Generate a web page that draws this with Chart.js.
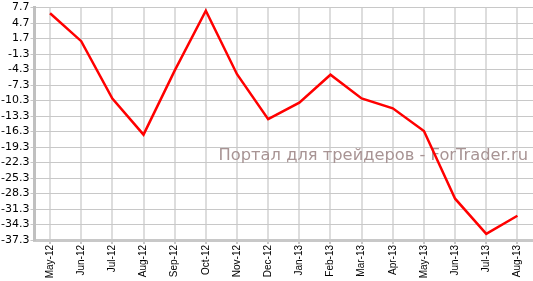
<!DOCTYPE html>
<html>
<head>
<meta charset="utf-8">
<script src="https://cdn.jsdelivr.net/npm/chart.js@4"></script>
<style>
  html, body { margin: 0; padding: 0; background: #fff; }
  #wrap { width: 533px; height: 281px; }
</style>
</head>
<body>
<div id="wrap"><canvas id="chart1"></canvas></div>
<script>
const months = [
  "May-12", "Jun-12", "Jul-12", "Aug-12", "Sep-12", "Oct-12", "Nov-12", "Dec-12",
  "Jan-13", "Feb-13", "Mar-13", "Apr-13", "May-13", "Jun-13", "Jul-13", "Aug-13",
];

const values = [
  6.6, 1.2, -9.9, -16.9, -4.5, 7.1, -5.2, -13.9,
  -10.7, -5.3, -9.9, -11.8, -16.2, -29.3, -36.1, -32.6,
];

const yTicks = [
  7.7, 4.7, 1.7, -1.3, -4.3, -7.3, -10.3, -13.3,
  -16.3, -19.3, -22.3, -25.3, -28.3, -31.3, -34.3, -37.3,
];

const watermark = "Портал для трейдеров - ForTrader.ru";

// надпись за линией
const watermarkPlugin = {
  id: "watermark",
  beforeDatasetsDraw(chart) {
    const c = chart.ctx;
    c.save();
    c.font = "16.3px 'DejaVu Sans'";
    c.fillStyle = "#a89494";
    c.textAlign = "right";
    c.textBaseline = "alphabetic";
    c.fillText(watermark, 528, 160);
    c.restore();
  },
};

window.onload = function () {
  const ctx = document.getElementById("chart1");
  new Chart(ctx, {
    type: "line",
    data: {
      labels: months,
      datasets: [
        {
          data: values,
          borderColor: "#ff0000",
          borderWidth: 2.5,
          pointRadius: 0,
          tension: 0,
        },
      ],
    },
    options: {
      responsive: true,
      maintainAspectRatio: false,
      animation: false,
      layout: { padding: { top: -1, right: 0, left: 0, bottom: 0 } },
      plugins: {
        legend: { display: false },
        tooltip: { enabled: false },
      },
      scales: {
        x: {
          offset: true,
          afterFit: function (axis) {
            axis.height = 41;
          },
          grid: {
            offset: false,
            color: "#dddddd",
            lineWidth: 2,
            tickLength: 4,
            tickColor: "#c8c8c8",
          },
          border: { color: "#c8c8c8", width: 3 },
          ticks: {
            minRotation: 90,
            maxRotation: 90,
            autoSkip: false,
            color: "#000",
            font: { family: "'Liberation Sans'", size: 10 },
            padding: 1,
          },
        },
        y: {
          min: -37.3,
          max: 7.7,
          afterBuildTicks: function (axis) {
            axis.ticks = yTicks.map((v) => ({ value: v }));
          },
          grid: {
            color: "#c8c8c8",
            lineWidth: 1,
            tickLength: 4,
            tickColor: "#c8c8c8",
          },
          border: { color: "#c0c0c0", width: 3 },
          ticks: {
            autoSkip: false,
            color: "#000",
            font: { family: "'DejaVu Sans'", size: 11 },
            padding: 1,
            callback: function (value) {
              return value.toFixed(1);
            },
          },
        },
      },
    },
    plugins: [watermarkPlugin],
  });
};
</script>
</body>
</html>
